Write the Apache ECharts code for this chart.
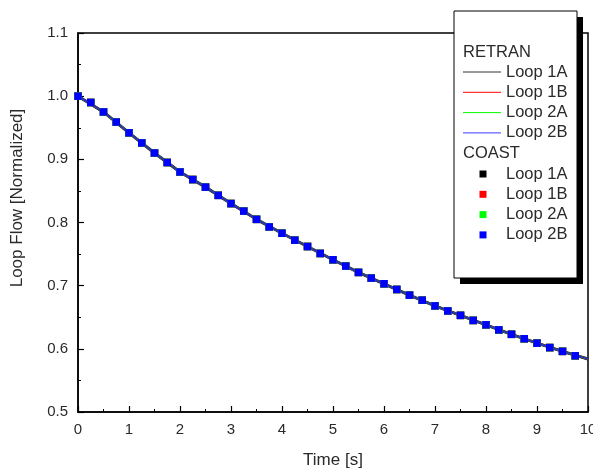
<!DOCTYPE html>
<html>
<head>
<meta charset="utf-8">
<script src="https://cdn.jsdelivr.net/npm/echarts@6/dist/echarts.min.js"></script>
<style>
html,body{margin:0;padding:0;background:#fff;}
#chart{width:593px;height:468px;}
</style>
</head>
<body>
<div id="chart"></div>
<script>
// ---- data ----
var coastTime = [0,0.25,0.5,0.75,1,1.25,1.5,1.75,2,2.25,2.5,2.75,3,3.25,3.5,3.75,4,4.25,4.5,4.75,5,5.25,5.5,5.75,6,6.25,6.5,6.75,7,7.25,7.5,7.75,8,8.25,8.5,8.75,9,9.25,9.5,9.75];
var coastFlow = [1.000,0.990,0.975,0.959,0.942,0.926,0.910,0.895,0.880,0.868,0.856,0.843,0.830,0.818,0.805,0.793,0.783,0.772,0.762,0.751,0.741,0.731,0.721,0.712,0.703,0.694,0.685,0.677,0.668,0.660,0.653,0.645,0.638,0.630,0.623,0.616,0.609,0.602,0.596,0.589];
var retranTime = [0,0.5,1,1.5,2,2.5,3,3.5,4,4.5,5,5.5,6,6.5,7,7.5,8,8.5,9,9.5,10];
var retranFlow = [1.000,0.975,0.942,0.910,0.880,0.856,0.830,0.805,0.783,0.762,0.741,0.721,0.703,0.685,0.668,0.653,0.638,0.623,0.609,0.596,0.584];
var loopNames = ['Loop 1A','Loop 1B','Loop 2A','Loop 2B'];
var xTicks = {min:0, max:10, step:1};
var yTicks = {min:0.5, max:1.1, step:0.1};
var xTitle = 'Time [s]';
var yTitle = 'Loop Flow [Normalized]';

// ---- styles ----
var lineColors = ['#333333','#ff0000','#00ff00','#3a3aff'];
var plotLineColors = ['#1a1a4a','#aa0000','#00aa00','#2828e0'];
var markColors = ['#000000','#ff0000','#00ff00','#0000ff'];
var lineWidths = [3,2.2,1.8,1.4];
var FONT = 'Liberation Sans, Arial, sans-serif';
var FS_TICK = 15, FS_NAME = 17, FS_LEG = 16.5;
var TXT = '#2a2a2a';

function pairs(xs, ys){ return xs.map(function(x,i){return [x, ys[i]];}); }

var series = [];
loopNames.forEach(function(n,i){
  series.push({name:'RETRAN '+n, type:'line', data:pairs(retranTime, retranFlow),
    showSymbol:false, symbol:'none', lineStyle:{color:plotLineColors[i], width:lineWidths[i]},
    itemStyle:{color:plotLineColors[i]}, z:2, animation:false, silent:true});
});
loopNames.forEach(function(n,i){
  series.push({name:'COAST '+n, type:'scatter', data:pairs(coastTime, coastFlow),
    symbol:'rect', symbolSize:7.5, itemStyle:{color:markColors[i], opacity:1}, z:3, animation:false, silent:true});
});

// legend drawn as graphic
var L = {x:454, y:11, w:123, h:267, sh:6};
var g = [];
g.push({type:'rect', shape:{x:L.x+L.sh, y:L.y+L.sh, width:L.w, height:L.h}, style:{fill:'#000'}, z:100});
g.push({type:'rect', shape:{x:L.x, y:L.y, width:L.w, height:L.h}, style:{fill:'#fff', stroke:'#000', lineWidth:1}, z:101});
g.push({type:'text', x:463, y:52, style:{text:'RETRAN', fill:TXT, font: FS_LEG+'px '+FONT, textVerticalAlign:'middle'}, z:102});
loopNames.forEach(function(n,i){
  var yy = 72 + i*20.3;
  g.push({type:'line', shape:{x1:463, y1:yy, x2:501, y2:yy}, style:{stroke:lineColors[i], lineWidth:1}, z:102});
  g.push({type:'text', x:506, y:yy, style:{text:n, fill:TXT, font: FS_LEG+'px '+FONT, textVerticalAlign:'middle'}, z:102});
});
g.push({type:'text', x:463, y:153, style:{text:'COAST', fill:TXT, font: FS_LEG+'px '+FONT, textVerticalAlign:'middle'}, z:102});
loopNames.forEach(function(n,i){
  var yy = 174 + i*20.3;
  g.push({type:'rect', shape:{x:479.5, y:yy-3.5, width:7, height:7}, style:{fill:markColors[i]}, z:102});
  g.push({type:'text', x:506, y:yy, style:{text:n, fill:TXT, font: FS_LEG+'px '+FONT, textVerticalAlign:'middle'}, z:102});
});
// y axis title
g.push({type:'text', x:17, y:198, rotation:Math.PI/2,
  style:{text:yTitle, fill:TXT, font: FS_NAME+'px '+FONT, textAlign:'center', textVerticalAlign:'middle'}, z:50});

var chart = echarts.init(document.getElementById('chart'), null, {renderer:'canvas'});
chart.setOption({
  animation:false,
  backgroundColor:'#fff',
  textStyle:{fontFamily:FONT},
  grid:{left:78, right:5, top:33, bottom:56, show:true, borderColor:'#000', borderWidth:1.5,
    backgroundColor:'transparent', containLabel:false, outerBoundsMode:'none'},
  xAxis:{type:'value', min:xTicks.min, max:xTicks.max, interval:xTicks.step,
    name:xTitle, nameLocation:'middle', nameGap:40,
    nameTextStyle:{fontSize:FS_NAME, color:TXT, fontFamily:FONT},
    axisLine:{lineStyle:{color:'#000', width:1.5}},
    axisTick:{inside:true, length:6, lineStyle:{color:'#000', width:1.2}},
    minorTick:{show:true, splitNumber:2, length:3, lineStyle:{color:'#000', width:1}},
    axisLabel:{fontSize:FS_TICK, color:TXT, margin:10, fontFamily:FONT, showMaxLabel:true, hideOverlap:false},
    splitLine:{show:false}},
  yAxis:{type:'value', min:yTicks.min, max:yTicks.max, interval:yTicks.step,
    axisLine:{lineStyle:{color:'#000', width:1.5}},
    axisTick:{inside:true, length:6, lineStyle:{color:'#000', width:1.2}},
    minorTick:{show:true, splitNumber:2, length:3, lineStyle:{color:'#000', width:1}},
    axisLabel:{fontSize:FS_TICK, color:TXT, margin:10, fontFamily:FONT, formatter:function(v){return v.toFixed(1);}},
    splitLine:{show:false}},
  series:series,
  graphic:{elements:g}
});
</script>
</body>
</html>
